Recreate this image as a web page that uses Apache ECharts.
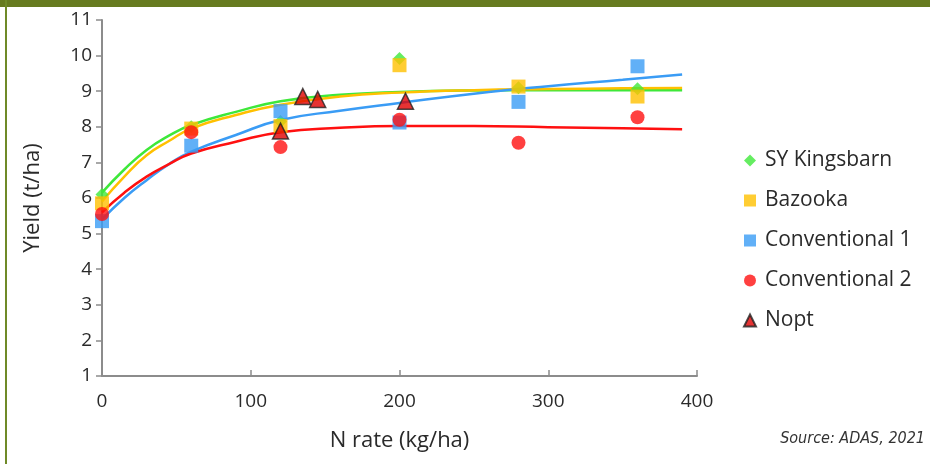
<!DOCTYPE html>
<html>
<head>
<meta charset="utf-8">
<style>
  html, body { margin: 0; padding: 0; background: #fff; }
  #chart { width: 930px; height: 464px; }
</style>
<script src="https://cdn.jsdelivr.net/npm/echarts@6/dist/echarts.min.js"></script>
</head>
<body>
<div id="chart"></div>
<script>
// measured points [N rate, yield]
const kingsbarnPts = [[0, 6.1], [60, 8.0], [120, 8.15], [200, 9.92], [280, 9.1], [360, 9.07]]
const bazookaPts = [[0, 5.85], [60, 7.95], [120, 8.02], [200, 9.73], [280, 9.13], [360, 8.85]]
const conv1Pts = [[0, 5.35], [60, 7.47], [120, 8.44], [200, 8.12], [280, 8.7], [360, 9.7]]
const conv2Pts = [[0, 5.55], [60, 7.85], [120, 7.43], [200, 8.2], [280, 7.55], [360, 8.27]]
const noptPts = [[120, 7.88], [135, 8.85], [145, 8.77], [204, 8.72]]

// fitted response curves
const curveX = [0, 15, 30, 45, 60, 90, 120, 160, 200, 250, 300, 350, 390]
const kingsbarnFit = [6.15, 6.8, 7.35, 7.75, 8.05, 8.42, 8.72, 8.9, 8.98, 9.02, 9.03, 9.03, 9.03]
const bazookaFit = [5.9, 6.6, 7.2, 7.6, 7.95, 8.33, 8.62, 8.85, 8.96, 9.03, 9.06, 9.08, 9.09]
const conv1Fit = [5.4, 6.0, 6.5, 6.95, 7.3, 7.77, 8.19, 8.45, 8.67, 8.93, 9.14, 9.32, 9.47]
const conv2Fit = [5.6, 6.15, 6.6, 6.95, 7.25, 7.58, 7.85, 7.97, 8.02, 8.02, 7.99, 7.96, 7.93]

const xTicks = [0, 100, 200, 300, 400]
const yTicks = [1, 11]

const GREEN = '#3ee83a'
const YELLOW = '#ffc000'
const BLUE = '#3a9cf5'
const RED = '#ff1010'
const TEXT = '#2a2a2a'
const FONT = '"Open Sans", Lato, sans-serif'

const fit = (ys) => curveX.map((x, i) => [x, ys[i]])

const lineSeries = (ys, color) => ({
  type: 'line',
  data: fit(ys),
  smooth: true,
  showSymbol: false,
  silent: true,
  z: 1,
  lineStyle: { color, width: 2.5 },
})

const chart = echarts.init(document.getElementById('chart'))
chart.setOption({
  backgroundColor: '#fff',
  animation: false,
  textStyle: { fontFamily: FONT, color: TEXT },
  grid: { left: 102, right: 233, top: 20, bottom: 88 },
  legend: {
    orient: 'vertical',
    left: 738,
    top: 145,
    itemGap: 19,
    itemWidth: 12,
    itemHeight: 12,
    textStyle: { fontSize: 21, color: TEXT, fontFamily: FONT, padding: [0, 0, 0, 4] },
    data: [
      { name: 'SY Kingsbarn', icon: 'diamond' },
      { name: 'Bazooka', icon: 'rect' },
      { name: 'Conventional 1', icon: 'rect' },
      { name: 'Conventional 2', icon: 'circle' },
      { name: 'Nopt', icon: 'triangle' },
    ],
  },
  xAxis: {
    type: 'value',
    min: xTicks[0],
    max: xTicks[xTicks.length - 1],
    interval: 100,
    name: 'N rate (kg/ha)',
    nameLocation: 'middle',
    nameGap: 54,
    nameTextStyle: { fontSize: 22, color: TEXT },
    axisLine: { lineStyle: { color: '#8c8c8c', width: 2 } },
    axisTick: { inside: true, length: 6, lineStyle: { color: '#8c8c8c', width: 1.5 } },
    axisLabel: { fontSize: 19, color: TEXT, margin: 16 },
    splitLine: { show: false },
  },
  yAxis: {
    type: 'value',
    min: yTicks[0],
    max: yTicks[1],
    interval: 1,
    name: 'Yield (t/ha)',
    nameLocation: 'middle',
    nameGap: 58,
    nameTextStyle: { fontSize: 22, color: TEXT },
    axisLine: { show: true, lineStyle: { color: '#8c8c8c', width: 2 } },
    axisTick: { show: true, length: 6, lineStyle: { color: '#8c8c8c', width: 1.5 } },
    axisLabel: { fontSize: 19, color: TEXT, margin: 10 },
    splitLine: { show: false },
  },
  series: [
    lineSeries(kingsbarnFit, GREEN),
    lineSeries(bazookaFit, YELLOW),
    lineSeries(conv1Fit, BLUE),
    lineSeries(conv2Fit, RED),
    { name: 'SY Kingsbarn', type: 'scatter', symbol: 'diamond', symbolSize: 13, z: 3, itemStyle: { color: GREEN }, data: kingsbarnPts },
    { name: 'Bazooka', type: 'scatter', symbol: 'rect', symbolSize: 14, z: 3, itemStyle: { color: YELLOW }, data: bazookaPts },
    { name: 'Conventional 1', type: 'scatter', symbol: 'rect', symbolSize: 14, z: 3, itemStyle: { color: BLUE }, data: conv1Pts },
    { name: 'Conventional 2', type: 'scatter', symbol: 'circle', symbolSize: 14, z: 3, itemStyle: { color: RED }, data: conv2Pts },
    {
      name: 'Nopt', type: 'scatter', symbol: 'triangle', symbolSize: 16, z: 4,
      itemStyle: { color: '#e00000', borderColor: '#222', borderWidth: 1.5 },
      data: noptPts,
    },
  ],
  graphic: [
    { type: 'rect', left: 0, top: 0, shape: { width: 930, height: 7 }, style: { fill: '#667b1f' } },
    { type: 'rect', left: 5, top: 0, shape: { width: 2, height: 464 }, style: { fill: '#6f8a28' } },
    {
      type: 'text', right: 5, top: 431,
      style: {
        text: 'Source: ADAS, 2021',
        font: 'italic 16px "Liberation Sans Narrow", "DejaVu Sans Condensed", sans-serif',
        fill: '#333',
      },
    },
  ],
})
</script>
</body>
</html>
